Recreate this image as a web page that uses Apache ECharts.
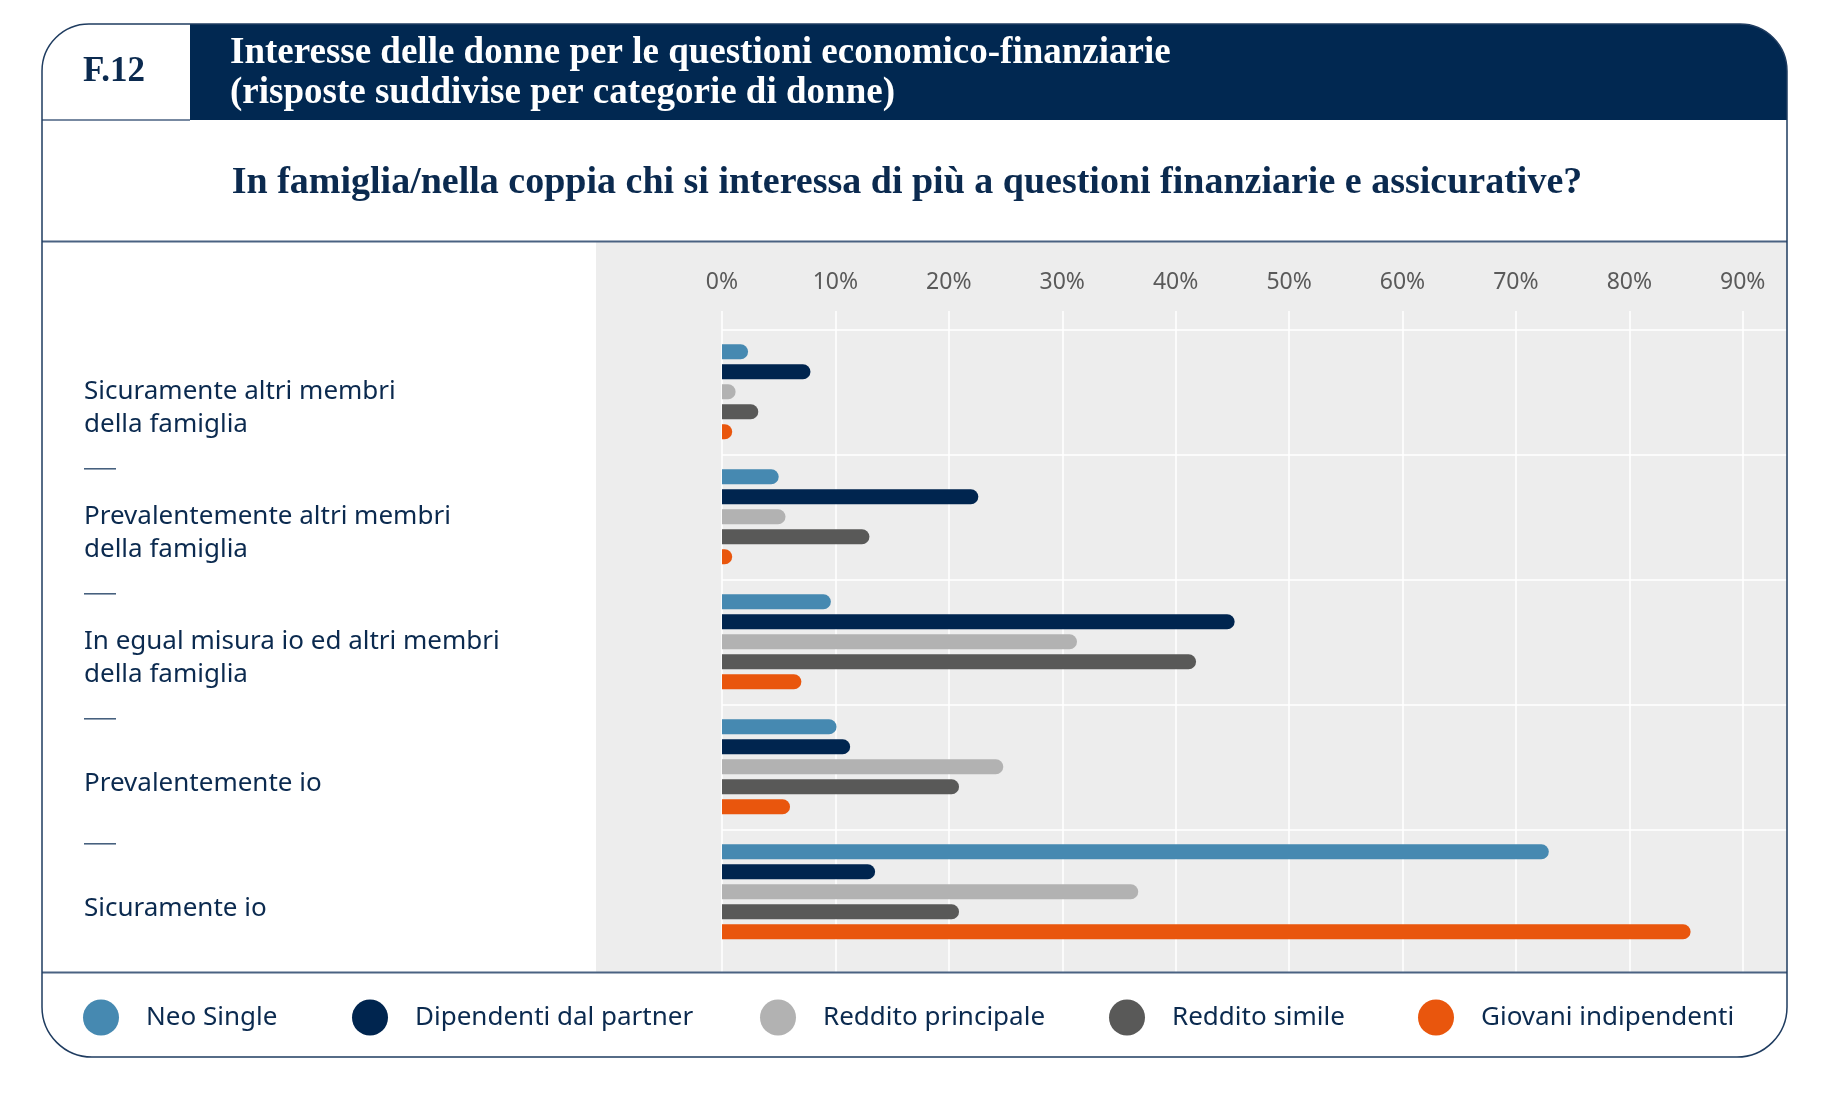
<!DOCTYPE html>
<html>
<head>
<meta charset="utf-8">
<script src="https://cdn.jsdelivr.net/npm/echarts@6/dist/echarts.min.js"></script>
<style>
html,body{margin:0;padding:0;background:#ffffff;}
#chart{width:1824px;height:1094px;}
</style>
</head>
<body>
<div id="chart"></div>
<script>
// ---- data ----
const categories = [
  'Sicuramente altri membri\ndella famiglia',
  'Prevalentemente altri membri\ndella famiglia',
  'In egual misura io ed altri membri\ndella famiglia',
  'Prevalentemente io',
  'Sicuramente io'
];
const seriesNames = ['Neo Single', 'Dipendenti dal partner', 'Reddito principale', 'Reddito simile', 'Giovani indipendenti'];
const neoSingle         = [2.3, 5.0, 9.6, 10.1, 72.9];
const dipendenti        = [7.8, 22.6, 45.2, 11.3, 13.5];
const redditoPrincipale = [1.2, 5.6, 31.3, 24.8, 36.7];
const redditoSimile     = [3.2, 13.0, 41.8, 20.9, 20.9];
const giovani           = [0.9, 0.9, 7.0, 6.0, 85.4];
const tickValues = [0, 10, 20, 30, 40, 50, 60, 70, 80, 90];

const titleLines = ['Interesse delle donne per le questioni economico-finanziarie', '(risposte suddivise per categorie di donne)'];
const figureTag = 'F.12';
const questionText = 'In famiglia/nella coppia chi si interessa di più a questioni finanziarie e assicurative?';

// ---- styles ----
const seriesColors = ['#4689b1', '#00254f', '#b2b2b2', '#595958', '#e9560d'];
const NAVY = '#0b2a4f';
const HEADER = '#012851';
const BORDER = '#1f3c60';
const RULE = '#4a6282';
const SANS = '"Noto Sans", sans-serif';
const SERIF = '"Liberation Serif", serif';

const seriesData = [neoSingle, dipendenti, redditoPrincipale, redditoSimile, giovani];

const chart = echarts.init(document.getElementById('chart'), null, {renderer: 'canvas'});

const X_MAX = 93.9;
const legendLefts = [78, 347, 755, 1104, 1413];

const option = {
  animation: false,
  backgroundColor: '#ffffff',
  grid: [
    {left: 722, top: 311, width: 1065, height: 661, containLabel: false},
    {left: 722, top: 329.3, width: 1065, height: 625, containLabel: false}
  ],
  xAxis: [
    {
      gridIndex: 0, type: 'value', position: 'top', min: 0, max: X_MAX, interval: 10,
      axisLine: {show: false}, axisTick: {show: false},
      axisLabel: {
        margin: 17, color: '#5a5a5a', fontSize: 23, fontFamily: SANS,
        formatter: v => tickValues.indexOf(v) >= 0 ? v + '%' : '',
        showMaxLabel: false
      },
      splitLine: {show: true, showMaxLine: false, lineStyle: {color: '#ffffff', width: 1.5}}
    },
    {
      gridIndex: 1, type: 'value', min: 0, max: X_MAX, show: false,
      splitLine: {show: false}
    }
  ],
  yAxis: [
    {gridIndex: 0, type: 'value', show: false, splitLine: {show: false}},
    {
      gridIndex: 1, type: 'category', inverse: true, data: categories,
      axisLine: {show: false}, axisTick: {show: false},
      axisLabel: {
        interval: 0, align: 'left', margin: 638, color: NAVY, fontSize: 26,
        fontFamily: SANS, lineHeight: 33,
        formatter: v => '\n' + v
      },
      splitLine: {show: true, showMaxLine: false, lineStyle: {color: '#ffffff', width: 1.5}}
    }
  ],
  legend: seriesNames.map((n, i) => ({
    data: [n], left: legendLefts[i], top: 994.5, icon: 'circle',
    itemWidth: 36, itemHeight: 36, selectedMode: false,
    textStyle: {color: NAVY, fontSize: 26, fontFamily: SANS, padding: [0, 0, 0, 22]}
  })),
  series: seriesNames.map((n, i) => ({
    name: n, type: 'bar', xAxisIndex: 1, yAxisIndex: 1,
    data: seriesData[i], barWidth: 15, barGap: '33.33%',
    itemStyle: {color: seriesColors[i], borderRadius: [0, 7.5, 7.5, 0]},
    emphasis: {disabled: true}
  })),
  graphic: {
    elements: [
      {id: 'plotbg', type: 'rect', z: -10, shape: {x: 596, y: 242, width: 1191, height: 730}, style: {fill: '#ededed'}},
      {id: 'header', type: 'rect', z: 50, shape: {x: 190, y: 24, width: 1597, height: 96, r: [0, 47, 0, 0]}, style: {fill: HEADER}},
      {id: 'tagline', type: 'line', z: 51, shape: {x1: 42, y1: 120, x2: 190, y2: 120}, style: {stroke: RULE, lineWidth: 1.5}},
      {id: 'rule1', type: 'line', z: 51, shape: {x1: 42, y1: 241.5, x2: 1787, y2: 241.5}, style: {stroke: RULE, lineWidth: 2}},
      {id: 'rule2', type: 'line', z: 51, shape: {x1: 42, y1: 972.5, x2: 1787, y2: 972.5}, style: {stroke: RULE, lineWidth: 2}},
      {id: 'card', type: 'rect', z: 60, shape: {x: 42, y: 24, width: 1745, height: 1033, r: [47, 47, 50, 50]}, style: {fill: null, stroke: BORDER, lineWidth: 1.5}},
      {id: 'tag', type: 'text', z: 61, style: {text: figureTag, x: 114, y: 72, align: 'center', verticalAlign: 'middle', fill: NAVY, font: 'bold 35px ' + SERIF}},
      {id: 'title', type: 'text', z: 61, style: {text: titleLines.join('\n'), x: 230, y: 73, align: 'left', verticalAlign: 'middle', lineHeight: 40, fill: '#ffffff', font: 'bold 37px ' + SERIF}},
      {id: 'question', type: 'text', z: 61, style: {text: questionText, x: 907, y: 183, align: 'center', verticalAlign: 'middle', fill: NAVY, font: 'bold 38px ' + SERIF}}
    ]
  }
};

chart.setOption(option);

// separators under category labels, placed from the category axis scale
const centers = categories.map((c, i) => chart.convertToPixel({yAxisIndex: 1}, i));
const dashes = [];
for (let i = 0; i < categories.length - 1; i++) {
  const yb = (centers[i] + centers[i + 1]) / 2 + 14.5;
  dashes.push({id: 'dash' + i, type: 'line', z: 51, shape: {x1: 84, y1: yb, x2: 116, y2: yb}, style: {stroke: '#3d5878', lineWidth: 1.5}});
}
chart.setOption({graphic: {elements: dashes}});
</script>
</body>
</html>
